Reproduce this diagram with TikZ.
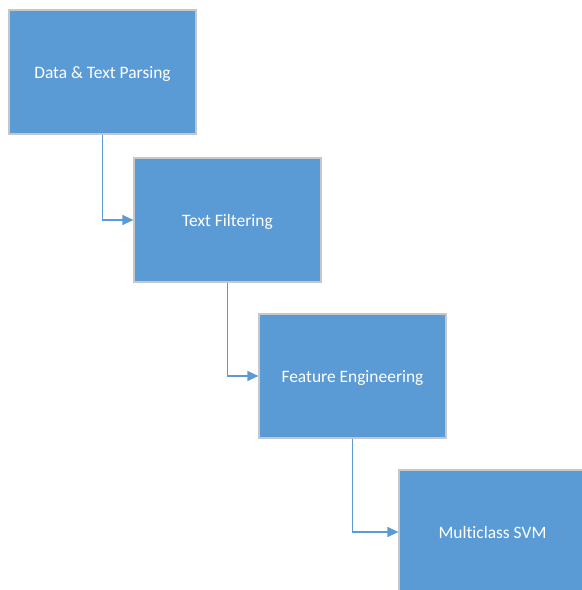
\documentclass[tikz,border=0pt]{standalone}
\usepackage{fontspec}
\setmainfont{Carlito}[Ligatures=NoCommon]
\usetikzlibrary{arrows.meta}
\definecolor{boxblue}{HTML}{5B9BD5}
\definecolor{boxedge}{HTML}{C4C8CC}
\begin{document}
\begin{tikzpicture}[x=1bp,y=-1bp,
  stagebox/.style={draw=boxedge,line width=1.2bp,fill=boxblue,minimum width=187bp,minimum height=124bp,
    inner sep=0pt,text height=17bp,text depth=3.5bp,text=white,font=\fontsize{17.5}{20}\selectfont},
  flow/.style={draw=boxblue,line width=1.3bp,-{Triangle[length=11bp,width=10bp]}}]
\useasboundingbox (0,0) rectangle (582,590);
\clip (0,0) rectangle (582,590);
\node[stagebox] (parse) at (102.5,72) {Data \& Text Parsing};
\node[stagebox] (filter) at (227.5,220) {Text Filtering};
\node[stagebox] (feat) at (352.5,376) {Feature Engineering};
\node[stagebox] (svm) at (492.5,532) {Multiclass SVM};
\draw[flow] (parse.south) |- (filter.west);
\draw[flow] (filter.south) |- (feat.west);
\draw[flow] (feat.south) |- (svm.west);
\end{tikzpicture}
\end{document}
